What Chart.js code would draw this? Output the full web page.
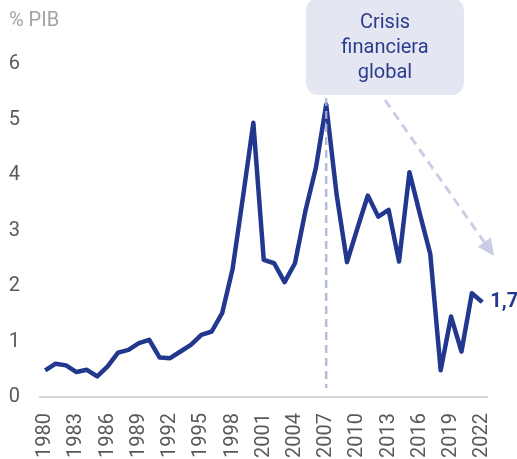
<!DOCTYPE html>
<html>
<head>
<meta charset="utf-8">
<script src="https://cdn.jsdelivr.net/npm/chart.js@4/dist/chart.umd.min.js"></script>
<style>
  html, body { margin: 0; padding: 0; background: #fff; }
  canvas { display: block; }
</style>
</head>
<body>
<canvas id="pibChart" width="517" height="459"></canvas>
<script>
// Data
const years = ['1980','1981','1982','1983','1984','1985','1986','1987','1988','1989',
  '1990','1991','1992','1993','1994','1995','1996','1997','1998','1999',
  '2000','2001','2002','2003','2004','2005','2006','2007','2008','2009',
  '2010','2011','2012','2013','2014','2015','2016','2017','2018','2019',
  '2020','2021','2022'];
const values = [0.48, 0.60, 0.57, 0.45, 0.49, 0.37, 0.55, 0.80, 0.85, 0.97,
  1.03, 0.71, 0.70, 0.82, 0.94, 1.12, 1.18, 1.51, 2.30, 3.60,
  4.94, 2.47, 2.41, 2.07, 2.41, 3.35, 4.12, 5.27, 3.65, 2.43,
  3.04, 3.63, 3.25, 3.37, 2.44, 4.05, 3.30, 2.58, 0.48, 1.45,
  0.82, 1.87, 1.71];
const xTickLabels = ['1980','1983','1986','1989','1992','1995','1998','2001',
  '2004','2007','2010','2013','2016','2019','2022'];
const yTicks = [0, 1, 2, 3, 4, 5, 6];
const unitLabel = '% PIB';
const crisisYear = '2007';
const crisisText = ['Crisis', 'financiera', 'global'];
const lastLabel = '1,7';

const lineColor = '#22388f';
const FONT = 'Roboto, "Noto Sans", sans-serif';

// extra drawing: unit text, crisis box, dashed lines, last value
const annotations = {
  id: 'annotations',
  afterDatasetsDraw(chart) {
    const c = chart.ctx;
    const xs = chart.scales.x, ys = chart.scales.y;
    c.save();

    // unit
    c.font = '20px ' + FONT;
    c.fillStyle = '#a3a3a3';
    c.textAlign = 'left';
    c.textBaseline = 'middle';
    c.fillText(unitLabel, 9, 21);

    // vertical dashed line at 2007
    const cx = xs.getPixelForValue(years.indexOf(crisisYear));
    c.strokeStyle = 'rgba(168,178,214,0.85)';
    c.lineWidth = 2.5;
    c.setLineDash([8, 5]);
    c.beginPath();
    c.moveTo(cx, 98);
    c.lineTo(cx, ys.getPixelForValue(0) - 9);
    c.stroke();

    // diagonal dashed arrow
    const ax0 = 385, ay0 = 100, ax1 = 494, ay1 = 256;
    const ang = Math.atan2(ay1 - ay0, ax1 - ax0);
    c.strokeStyle = '#c8cee6';
    c.lineWidth = 3;
    c.setLineDash([9, 6]);
    c.beginPath();
    c.moveTo(ax0, ay0);
    c.lineTo(ax1 - 12 * Math.cos(ang), ay1 - 12 * Math.sin(ang));
    c.stroke();
    c.setLineDash([]);
    c.fillStyle = '#c8cee6';
    c.beginPath();
    c.moveTo(ax1, ay1);
    c.lineTo(ax1 - 17 * Math.cos(ang) + 8 * Math.sin(ang), ay1 - 17 * Math.sin(ang) - 8 * Math.cos(ang));
    c.lineTo(ax1 - 17 * Math.cos(ang) - 8 * Math.sin(ang), ay1 - 17 * Math.sin(ang) + 8 * Math.cos(ang));
    c.closePath();
    c.fill();

    // crisis box
    const bx = 306, by = -2, bw = 158, bh = 97, r = 14;
    c.fillStyle = '#e4e6f2';
    c.beginPath();
    c.moveTo(bx + r, by);
    c.lineTo(bx + bw - r, by);
    c.quadraticCurveTo(bx + bw, by, bx + bw, by + r);
    c.lineTo(bx + bw, by + bh - r);
    c.quadraticCurveTo(bx + bw, by + bh, bx + bw - r, by + bh);
    c.lineTo(bx + r, by + bh);
    c.quadraticCurveTo(bx, by + bh, bx, by + bh - r);
    c.lineTo(bx, by + r);
    c.quadraticCurveTo(bx, by, bx + r, by);
    c.fill();

    c.fillStyle = '#2b3c8f';
    c.font = '20px ' + FONT;
    c.textAlign = 'center';
    crisisText.forEach((t, i) => c.fillText(t, bx + bw / 2, 23 + i * 25));

    // last value label
    const meta = chart.getDatasetMeta(0);
    const last = meta.data[meta.data.length - 1];
    c.fillStyle = lineColor;
    c.font = 'bold 20px ' + FONT;
    c.textAlign = 'left';
    c.fillText(lastLabel, last.x + 8, last.y);

    c.restore();
  }
};

const ctx = document.getElementById('pibChart').getContext('2d');
new Chart(ctx, {
  type: 'line',
  data: {
    labels: years,
    datasets: [{
      data: values,
      borderColor: lineColor,
      borderWidth: 4.5,
      borderJoinStyle: 'round',
      pointRadius: 0,
      tension: 0,
      fill: false
    }]
  },
  options: {
    responsive: false,
    animation: false,
    layout: { padding: { top: 64, right: 29.5, left: 0, bottom: 0 } },
    plugins: { legend: { display: false }, tooltip: { enabled: false } },
    scales: {
      x: {
        offset: true,
        grid: { display: false, drawTicks: false },
        border: { display: true, color: '#d6d6d6', width: 2 },
        afterFit(scale) {
          scale.height = 62;
          scale.paddingLeft = 0;
          scale.paddingRight = 0;
        },
        ticks: {
          autoSkip: false,
          minRotation: 90,
          maxRotation: 90,
          padding: 16,
          color: '#595959',
          font: { family: FONT, size: 20 },
          callback(val) {
            const lab = years[val];
            return xTickLabels.includes(lab) ? lab : '';
          }
        }
      },
      y: {
        min: yTicks[0],
        max: yTicks[yTicks.length - 1],
        grid: { display: false, drawTicks: false },
        border: { display: false },
        afterFit(scale) {
          scale.width = 40;
          scale.paddingTop = 0;
          scale.paddingBottom = 0;
        },
        afterBuildTicks(scale) { scale.ticks = yTicks.map(v => ({ value: v })); },
        ticks: {
          padding: 20,
          color: '#595959',
          font: { family: FONT, size: 20 }
        }
      }
    }
  },
  plugins: [annotations]
});
</script>
</body>
</html>
